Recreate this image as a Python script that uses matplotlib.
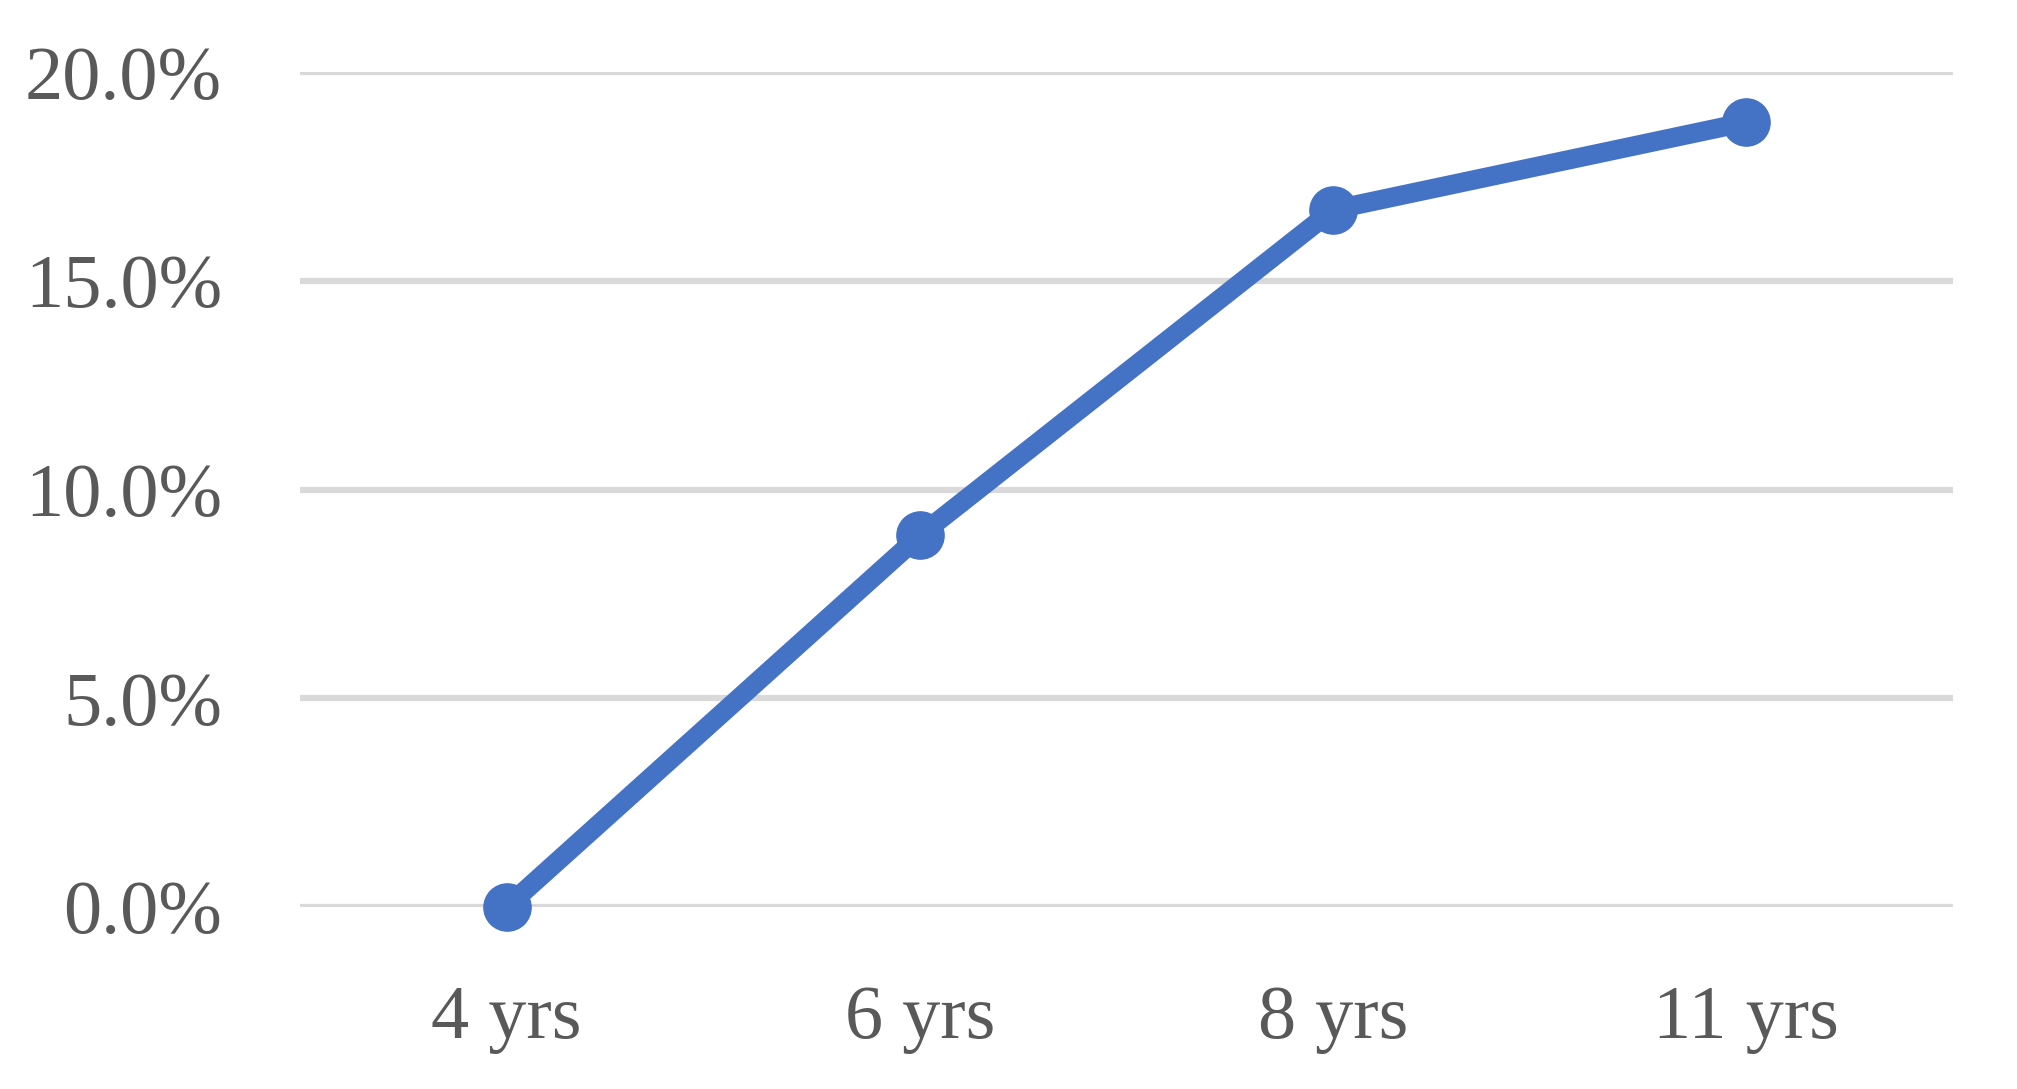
import numpy as np
import matplotlib.pyplot as plt
from matplotlib.ticker import FuncFormatter

categories = ["4 yrs", "6 yrs", "8 yrs", "11 yrs"]
values = [0.0, 8.9, 16.7, 18.8]
yticks = [0, 5, 10, 15, 20]

plt.rcParams['font.family'] = ['Liberation Serif', 'DejaVu Serif']

fig = plt.figure(figsize=(20.17, 10.89), dpi=100)
ax = fig.add_axes([300 / 2017, 1 - 907 / 1089, (1953 - 300) / 2017, (907 - 72) / 1089])

x = np.arange(len(categories))
ax.plot(x, values, color="#4472C4", linewidth=14, marker="o", markersize=34,
        solid_capstyle="round", zorder=3, clip_on=False)

ax.set_xlim(-0.5, len(categories) - 0.5)
ax.set_ylim(0, 20)
ax.set_yticks(yticks)
ax.yaxis.set_major_formatter(FuncFormatter(lambda v, p: f"{v:.1f}%"))
ax.set_xticks(x)
ax.set_xticklabels(categories)

ax.grid(axis="y", color="#D9D9D9", linewidth=4.5)
ax.set_axisbelow(True)
for s in ax.spines.values():
    s.set_visible(False)
ax.tick_params(axis="both", length=0, labelsize=55, colors="#595959")
ax.tick_params(axis="y", pad=56)
ax.tick_params(axis="x", pad=56)

fig.savefig("out.png", dpi=100)
